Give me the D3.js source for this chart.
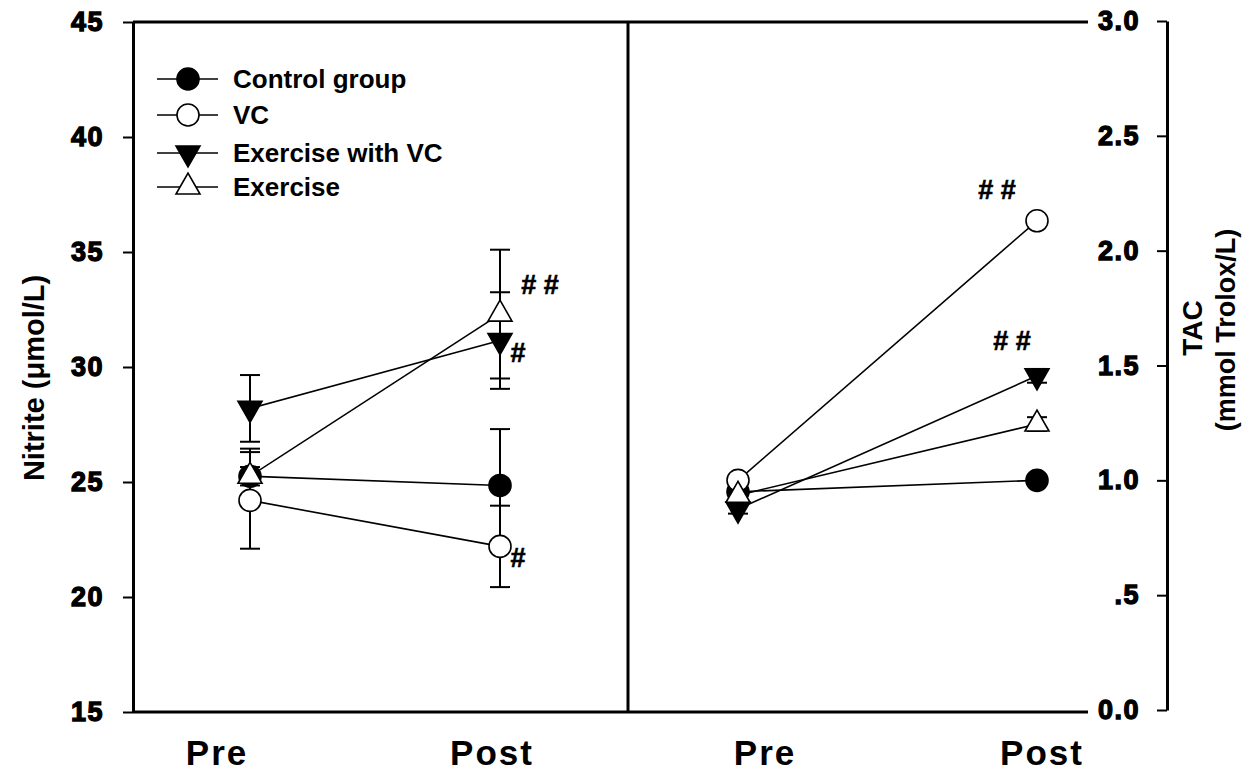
<!DOCTYPE html>
<html><head><meta charset="utf-8">
<script src="https://cdn.jsdelivr.net/npm/d3@7"></script>
<style>
html,body{margin:0;padding:0;background:#fff;}
svg{display:block;font-family:"Liberation Sans",Arial,sans-serif;}
</style></head>
<body>
<svg id="c" width="1254" height="774"></svg>
<script>
// ---- data ----
const groups = ["Control group", "VC", "Exercise with VC", "Exercise"];
const symbols = ["circleFilled", "circleOpen", "triDownFilled", "triUpOpen"];
const timepoints = ["Pre", "Post"];
const nitritePre = [25.25, 24.2, 28.2, 25.25];
const nitritePost = [24.85, 22.2, 31.15, 32.3];
const nitritePreErr = [0.4, 2.1, 1.45, 1.2];
const nitritePostErr = [2.45, 1.77, 2.1, 2.8];
const tacPre = [0.95, 1.0, 0.875, 0.935];
const tacPost = [1.0, 2.13, 1.455, 1.245];
const tacPreErr = [0.02, 0.02, 0.02, 0.02];
const tacPostErr = [0.02, 0.02, 0.03, 0.03];
const nitriteTicks = [15, 20, 25, 30, 35, 40, 45];
const tacTicks = [0, 0.5, 1, 1.5, 2, 2.5, 3];
const tacTickLabels = ["0.0", ".5", "1.0", "1.5", "2.0", "2.5", "3.0"];
const nitriteSig = [null, "#", "#", "# #"];   // at Post
const tacSig = [null, "# #", "# #", null];     // at Post
const yTitleLeft = "Nitrite (\u03bcmol/L)";
const yTitleRight = ["TAC", "(mmol Trolox/L)"];

// ---- layout ----
const svg = d3.select("#c");
const pTop = 22, pBottom = 712, pLeft = 133, pMid = 628, frameRight = 1088, rAxisX = 1167;

const yL = d3.scaleLinear().domain([15, 45]).range([pBottom, pTop]);
const yR = d3.scaleLinear().domain([0, 3]).range([pBottom - 2, pTop - 1]);
const xL = d3.scalePoint().domain(timepoints).range([250, 500]);
const xR = d3.scalePoint().domain(timepoints).range([738, 1037]);

// frame
const frame = svg.append("g").attr("stroke", "#000").attr("stroke-width", 3).attr("fill", "none");
frame.append("line").attr("x1", pLeft).attr("x2", frameRight).attr("y1", pTop).attr("y2", pTop);
frame.append("line").attr("x1", pLeft).attr("x2", frameRight).attr("y1", pBottom).attr("y2", pBottom);
frame.append("line").attr("x1", pMid).attr("x2", pMid).attr("y1", pTop).attr("y2", pBottom);

// left axis
const axL = svg.append("g").attr("transform", `translate(${pLeft},0)`)
  .call(d3.axisLeft(yL).tickValues(nitriteTicks).tickSize(10).tickPadding(19).tickSizeOuter(0));
// right axis (ticks and labels point left)
const axR = svg.append("g").attr("transform", `translate(${rAxisX},0)`)
  .call(d3.axisLeft(yR).tickValues(tacTicks).tickSize(10).tickPadding(17).tickSizeOuter(0)
    .tickFormat((d, i) => tacTickLabels[i]));
[axL, axR].forEach(ax => {
  ax.select(".domain").attr("stroke-width", 3).attr("stroke", "#000");
  ax.selectAll(".tick line").attr("stroke-width", 2).attr("stroke", "#000");
  ax.selectAll(".tick text").attr("font-size", 27).attr("font-weight", "bold")
    .attr("fill", "#000").attr("stroke", "#000").attr("stroke-width", 1.3)
    .attr("letter-spacing", 1.5).attr("font-family", "Liberation Sans, Arial, sans-serif");
});

// axis titles
svg.append("text").attr("transform", "translate(44,378) rotate(-90)")
  .attr("text-anchor", "middle").attr("font-size", 29).attr("font-weight", "bold").text(yTitleLeft);
svg.append("text").attr("transform", "translate(1202,328) rotate(-90)")
  .attr("text-anchor", "middle").attr("font-size", 28).attr("font-weight", "bold").text(yTitleRight[0]);
svg.append("text").attr("transform", "translate(1235,330) rotate(-90)")
  .attr("text-anchor", "middle").attr("font-size", 27).attr("font-weight", "bold").text(yTitleRight[1]);

// x labels (as in the original, slightly off the data columns)
const xLabelOffsets = { L: [-33, -8], R: [27, 5] };
timepoints.forEach((t, i) => {
  svg.append("text").attr("x", xL(t) + xLabelOffsets.L[i]).attr("y", 765)
    .attr("text-anchor", "middle").attr("font-size", 35).attr("font-weight", "bold")
    .attr("letter-spacing", 2).text(t);
  svg.append("text").attr("x", xR(t) + xLabelOffsets.R[i]).attr("y", 765)
    .attr("text-anchor", "middle").attr("font-size", 35).attr("font-weight", "bold")
    .attr("letter-spacing", 2).text(t);
});

// marker drawing
function drawMarker(g, type, x, y) {
  if (type === "circleFilled" || type === "circleOpen") {
    g.append("circle").attr("cx", x).attr("cy", y).attr("r", 11)
      .attr("fill", type === "circleFilled" ? "#000" : "#fff").attr("stroke", "#000").attr("stroke-width", 1.6);
  } else {
    const hw = 12, h = 21;
    const pts = type === "triDownFilled"
      ? [[x - hw, y - h / 3], [x + hw, y - h / 3], [x, y + 2 * h / 3]]
      : [[x - hw, y + h / 3], [x + hw, y + h / 3], [x, y - 2 * h / 3]];
    g.append("path").attr("d", d3.line()(pts) + "Z")
      .attr("fill", type === "triDownFilled" ? "#000" : "#fff").attr("stroke", "#000").attr("stroke-width", 1.6);
  }
}

function drawPanel(x, y, pre, post, preErr, postErr, sig, sigOff) {
  const g = svg.append("g");
  const lineG = g.append("g"), errG = g.append("g"), mkG = g.append("g"), sigG = g.append("g");
  groups.forEach((name, i) => {
    const vals = [pre[i], post[i]], errs = [preErr[i], postErr[i]];
    lineG.append("path")
      .attr("d", d3.line().x((d, j) => x(timepoints[j])).y(d => y(d))(vals))
      .attr("stroke", "#000").attr("stroke-width", 1.6).attr("fill", "none");
    vals.forEach((v, j) => {
      const cx = x(timepoints[j]);
      errG.append("line").attr("x1", cx).attr("x2", cx).attr("y1", y(v - errs[j])).attr("y2", y(v + errs[j]))
        .attr("stroke", "#000").attr("stroke-width", 2);
      [v - errs[j], v + errs[j]].forEach(e => {
        errG.append("line").attr("x1", cx - 10).attr("x2", cx + 10).attr("y1", y(e)).attr("y2", y(e))
          .attr("stroke", "#000").attr("stroke-width", 2);
      });
    });
  });
  groups.forEach((name, i) => {
    [pre[i], post[i]].forEach((v, j) => drawMarker(mkG, symbols[i], x(timepoints[j]), y(v)));
    if (sig[i]) {
      const o = sigOff[i];
      sigG.append("text").attr("x", x("Post") + o[0]).attr("y", y(post[i]) + o[1])
        .attr("text-anchor", "middle").attr("dominant-baseline", "central")
        .attr("font-size", 27).attr("font-weight", "bold").attr("stroke", "#000").attr("stroke-width", 0.6)
        .attr("xml:space", "preserve").text(sig[i]);
    }
  });
}

drawPanel(xL, yL, nitritePre, nitritePost, nitritePreErr, nitritePostErr, nitriteSig,
  [null, [18, 12], [18, 12], [40, -29]]);
drawPanel(xR, yR, tacPre, tacPost, tacPreErr, tacPostErr, tacSig,
  [null, [-40, -31], [-25, -35], null]);

// legend
const legend = svg.append("g");
const legendRows = [79, 115, 153, 187];
groups.forEach((name, i) => {
  const yy = legendRows[i];
  legend.append("line").attr("x1", 157).attr("x2", 218).attr("y1", yy).attr("y2", yy)
    .attr("stroke", "#000").attr("stroke-width", 1.6);
  drawMarker(legend, symbols[i], 188, yy);
  legend.append("text").attr("x", 233).attr("y", yy).attr("dominant-baseline", "central")
    .attr("font-size", 26).attr("font-weight", "bold").text(name);
});
</script>
</body></html>
